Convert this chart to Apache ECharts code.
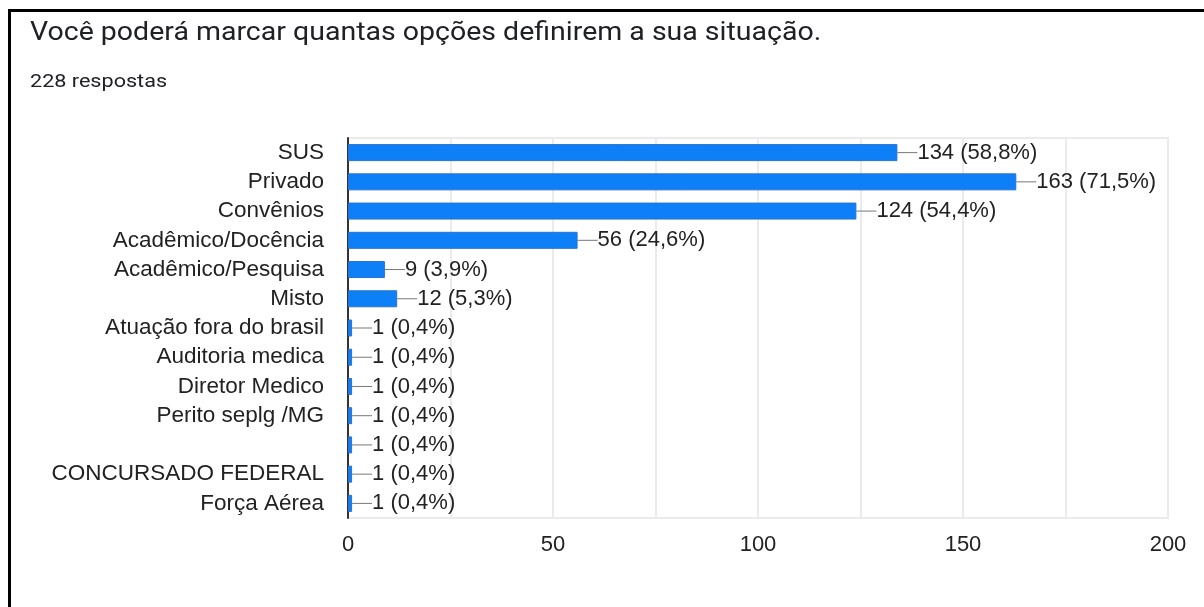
<!DOCTYPE html>
<html>
<head>
<meta charset="utf-8">
<title>Situação</title>
<script src="https://cdn.jsdelivr.net/npm/echarts@6/dist/echarts.min.js"></script>
<style>
  html, body { margin: 0; padding: 0; background: #fff; }
  #chart { width: 1204px; height: 607px; }
  .frame {
    position: absolute; left: 8px; top: 9px; right: 0; bottom: 0;
    border-top: 3px solid #000; border-left: 3px solid #000;
    pointer-events: none;
  }
</style>
</head>
<body>
<div id="chart"></div>
<div class="frame"></div>
<script>
const categories = [
  'SUS', 'Privado', 'Convênios', 'Acadêmico/Docência', 'Acadêmico/Pesquisa',
  'Misto', 'Atuação fora do brasil', 'Auditoria medica', 'Diretor Medico',
  'Perito seplg /MG', '', 'CONCURSADO FEDERAL', 'Força Aérea'
]
const counts = [134, 163, 124, 56, 9, 12, 1, 1, 1, 1, 1, 1, 1]
const percents = ['58,8%', '71,5%', '54,4%', '24,6%', '3,9%', '5,3%',
  '0,4%', '0,4%', '0,4%', '0,4%', '0,4%', '0,4%', '0,4%']
const xTicks = [0, 50, 100, 150, 200]

const chart = echarts.init(document.getElementById('chart'))

const labelFont = 'Arial, "Liberation Sans", sans-serif'

const option = {
  animation: false,
  graphic: [
    {
      type: 'text', x: 30, y: 34, scaleX: 1.14,
      style: {
        text: 'Você poderá marcar quantas opções definirem a sua situação.',
        fontFamily: 'Roboto', fontSize: 25, fill: '#202124',
        verticalAlign: 'middle'
      }
    },
    {
      type: 'text', x: 30, y: 82, scaleX: 1.2,
      style: {
        text: '228 respostas',
        fontFamily: 'Roboto', fontSize: 18, fill: '#202124',
        verticalAlign: 'middle'
      }
    }
  ],
  grid: {
    left: 348, right: 36, top: 138, bottom: 89,
    show: true, borderColor: '#ebebeb', borderWidth: 2
  },
  xAxis: {
    type: 'value',
    min: 0, max: 200, interval: 25,
    axisLine: { show: false },
    axisTick: { show: false },
    splitLine: { lineStyle: { color: '#ebebeb', width: 2 } },
    axisLabel: {
      margin: 16,
      color: '#222', fontSize: 22, fontFamily: labelFont,
      formatter: v => xTicks.includes(v) ? String(v) : ''
    }
  },
  yAxis: {
    type: 'category',
    inverse: true,
    data: categories,
    axisTick: { show: false },
    axisLine: { lineStyle: { color: '#333', width: 2 } },
    axisLabel: {
      interval: 0,
      margin: 24,
      color: '#222', fontSize: 22.5, fontFamily: labelFont
    }
  },
  series: [{
    type: 'bar',
    data: counts,
    barWidth: 17,
    itemStyle: { color: '#0d80f7', borderColor: '#2a72d0', borderWidth: 1 },
    label: {
      show: true,
      position: 'right',
      distance: 0,
      formatter: p => '{ln|\u00a0}{t|' + counts[p.dataIndex] + ' (' + percents[p.dataIndex] + ')}',
      rich: {
        ln: { width: 20, height: 1, backgroundColor: '#777', verticalAlign: 'middle' },
        t: { color: '#222', fontSize: 22, fontFamily: labelFont }
      }
    }
  }]
}

chart.setOption(option)
</script>
</body>
</html>
